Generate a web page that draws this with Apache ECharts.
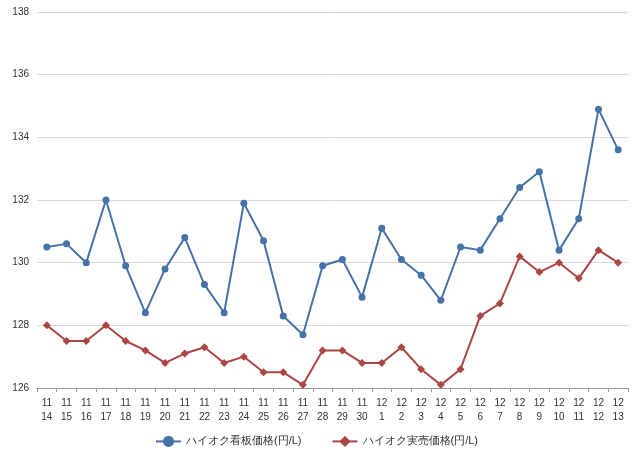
<!DOCTYPE html>
<html><head><meta charset="utf-8">
<script src="https://cdn.jsdelivr.net/npm/echarts@6/dist/echarts.min.js"></script>
<style>html,body{margin:0;padding:0;background:#fff}#c{width:640px;height:468px}</style>
</head><body><div id="c"></div>
<script>
const months = [11,11,11,11,11,11,11,11,11,11,11,11,11,11,11,11,11,12,12,12,12,12,12,12,12,12,12,12,12,12];
const days = [14,15,16,17,18,19,20,21,22,23,24,25,26,27,28,29,30,1,2,3,4,5,6,7,8,9,10,11,12,13];
const categories = months.map((m,i)=>m+'\n'+days[i]);
const signPrice = [130.5,130.6,130.0,132.0,129.9,128.4,129.8,130.8,129.3,128.4,131.9,130.7,128.3,127.7,129.9,130.1,128.9,131.1,130.1,129.6,128.8,130.5,130.4,131.4,132.4,132.9,130.4,131.4,134.9,133.6];
const actualPrice = [128.0,127.5,127.5,128.0,127.5,127.2,126.8,127.1,127.3,126.8,127.0,126.5,126.5,126.1,127.2,127.2,126.8,126.8,127.3,126.6,126.1,126.6,128.3,128.7,130.2,129.7,130.0,129.5,130.4,130.0];
const names = ['ハイオク看板価格(円/L)','ハイオク実売価格(円/L)'];
const chart = echarts.init(document.getElementById('c'));
chart.setOption({
  animation:false,
  grid:{left:37,right:12,top:12,bottom:80},
  legend:{bottom:16,left:150,itemGap:30,textStyle:{fontSize:11,color:'#333'},data:names},
  xAxis:{type:'category',data:categories,boundaryGap:true,
    axisLine:{lineStyle:{color:'#999'}},axisTick:{show:true,length:4,lineStyle:{color:'#999'}},
    axisLabel:{fontSize:10,color:'#333',interval:0,lineHeight:14}},
  yAxis:{type:'value',min:126,max:138,interval:2,
    axisLabel:{fontSize:10,color:'#333'},axisLine:{show:false},axisTick:{show:false},
    splitLine:{lineStyle:{color:'#d9d9d9'}}},
  series:[
    {name:names[0],type:'line',data:signPrice,symbol:'circle',symbolSize:7,
     itemStyle:{color:'#4572A7'},lineStyle:{width:2,color:'#4572A7'}},
    {name:names[1],type:'line',data:actualPrice,symbol:'diamond',symbolSize:8,
     itemStyle:{color:'#AA4643'},lineStyle:{width:2,color:'#AA4643'}}
  ]
});
</script></body></html>
